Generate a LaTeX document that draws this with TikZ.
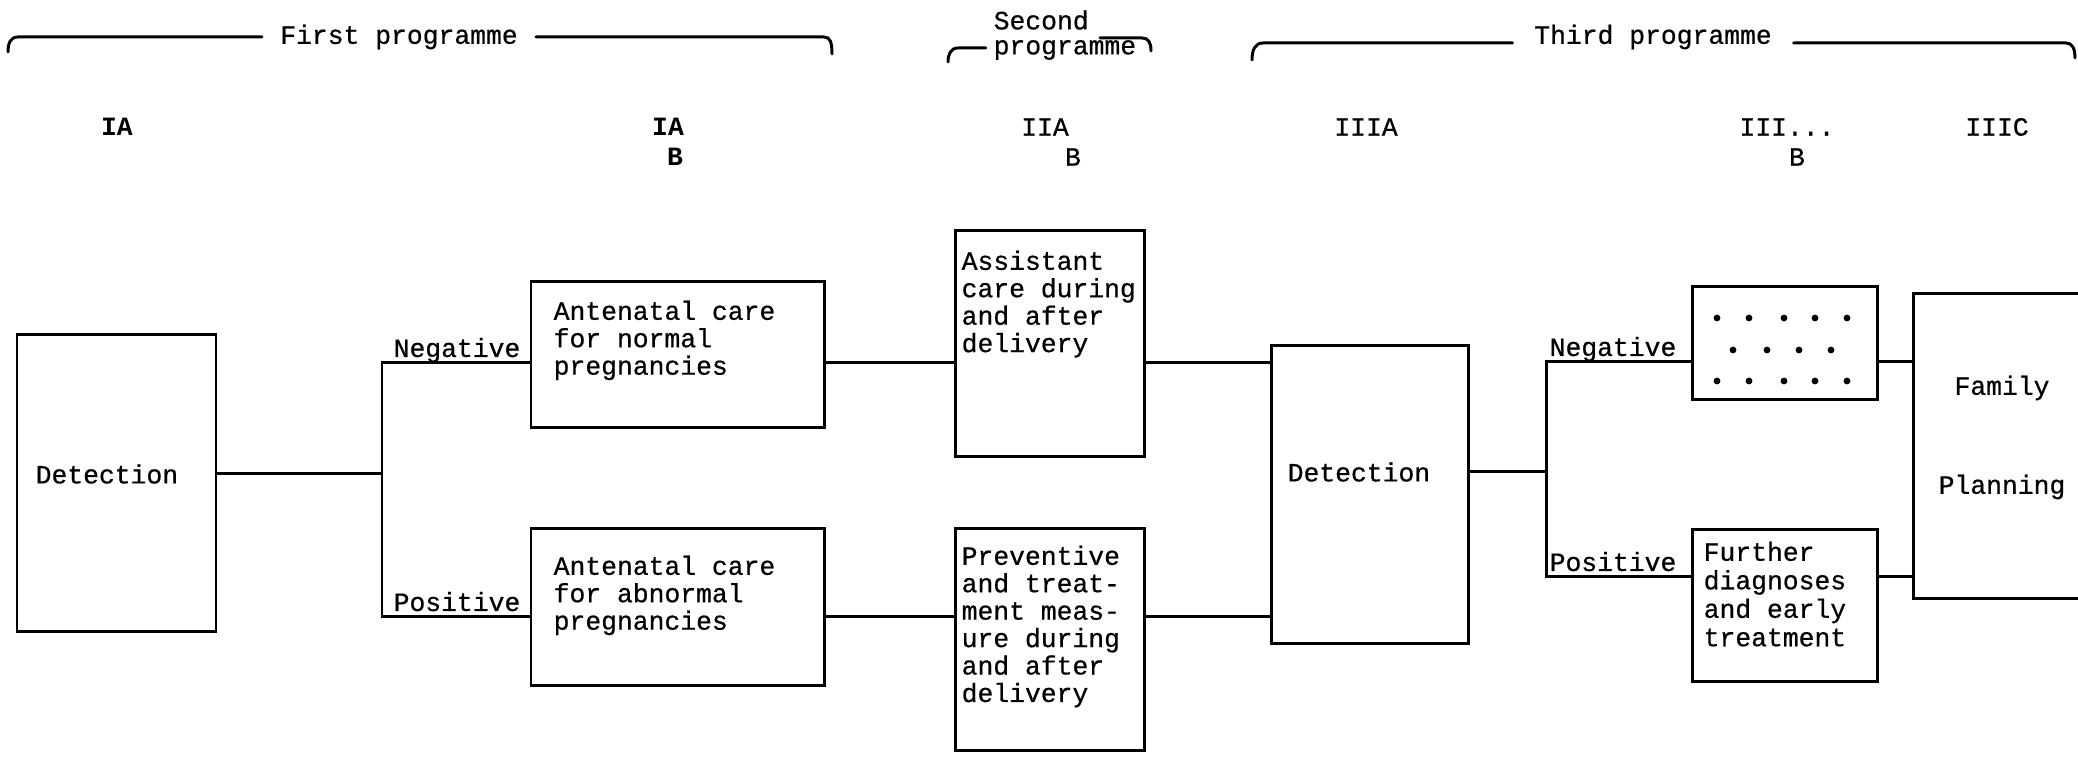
\documentclass[tikz,border=0pt]{standalone}
\usepackage{fontspec}
\setmonofont{Liberation Mono}
\newfontfamily\typer[FakeBold=0.6]{Liberation Mono}
\usetikzlibrary{fit}
\begin{document}
\begin{tikzpicture}[x=0.01cm,y=-0.01cm,
  box/.style={draw,line width=0.85pt,inner sep=0pt},
  link/.style={line width=0.85pt},
  brace/.style={line width=0.85pt,line cap=round},
  txt/.style={font=\typer\fontsize{7.5}{7.8}\selectfont,inner sep=0pt,align=left,text=black},
  big/.style={font=\typer\fontsize{7.5}{7.8}\selectfont,inner sep=0pt},
  head/.style={font=\ttfamily\bfseries\fontsize{7.5}{7.8}\selectfont,inner sep=0pt},
  headr/.style={font=\typer\fontsize{7.5}{7.8}\selectfont,inner sep=0pt},
  prog/.style={font=\typer\fontsize{7.5}{7.8}\selectfont,inner sep=0pt}]
\useasboundingbox (0,0) rectangle (2078,774);
\clip (0,0) rectangle (2078,774);

% programme headings with their brackets
\node[prog,inner xsep=5pt] (p1) at (399,37) {First programme};
\draw[brace] (8,52) .. controls (8,44) and (10,37) .. (18,37) -- (p1.west);
\draw[brace] (p1.east) -- (824,37) .. controls (830,37) and (832,42) .. (832,54);

\node[prog,anchor=west] (p2) at (993,20) {Second};
\node[prog,anchor=west] (p2b) at (993,50) {programme};
\draw[brace] (948,62) .. controls (948,54) and (951,48) .. (958,48) -- ([xshift=-2pt]p2b.west |- 0,48);
\draw[brace] (1100,38) -- (1142,38) .. controls (1148,38) and (1151,42) .. (1151,51);

\node[prog,inner xsep=6pt] (p3) at (1653,37) {Third programme};
\draw[brace] (1252,60) .. controls (1252,50) and (1255,43) .. (1263,43) -- (p3.west |- 0,43);
\draw[brace] (p3.east |- 0,43) -- (2066,43) .. controls (2072,43) and (2075,48) .. (2075,58);

% column labels
\node[head] (c1) at (117,127) {IA};
\node[head] (c2a) at (668,127) {IA};
\node[head] (c2b) at (675,157) {B};
\node[headr] (c3a) at (1045,127) {IIA};
\node[headr] (c3b) at (1073,157) {B};
\node[headr] (c4) at (1366,127) {IIIA};
\node[headr] (c5a) at (1787,127) {III...};
\node[headr] (c5b) at (1797,157) {B};
\node[headr] (c6) at (1997,127) {IIIC};

% boxes
\node[box,fit={(17,335) (216,632)}] (d1) {};
\node[box,fit={(531,282) (824,428)}] (an) {};
\node[box,fit={(531,529) (824,686)}] (ab) {};
\node[box,fit={(955,231) (1144,457)}] (as) {};
\node[box,fit={(955,529) (1144,751)}] (pr) {};
\node[box,fit={(1271,346) (1468,644)}] (d2) {};
\node[box,fit={(1692,287) (1877,400)}] (dt) {};
\node[box,fit={(1692,530) (1877,682)}] (fu) {};
\node[box,fit={(1913,294) (2095,599)}] (fp) {};

% box texts
\node[big,anchor=west] (d1t) at (35,474) {Detection};
\node[txt,anchor=north west] (ant) at (553,300) {Antenatal care\\for normal\\pregnancies};
\node[txt,anchor=north west] (abt) at (553,555) {Antenatal care\\for abnormal\\pregnancies};
\node[txt,anchor=north west] (ast) at (961,250) {Assistant\\care during\\and after\\delivery};
\node[txt,anchor=north west] (prt) at (961,545) {Preventive\\and treat-\\ment meas-\\ure during\\and after\\delivery};
\node[big,anchor=west] (d2t) at (1287,472) {Detection};
\node[txt,anchor=north west,font=\typer\fontsize{7.5}{8.1}\selectfont] (fut) at (1703,541) {Further\\diagnoses\\and early\\treatment};
\node[big] (fpa) at (2002,388) {Family};
\node[big] (fpb) at (2002,487) {Planning};

% dots in the open box
\foreach \x in {1717,1749,1784,1815,1847} {
  \fill (\x,318) circle (3.4);
  \fill (\x,381) circle (3.4);
}
\foreach \x in {1733,1767,1799,1831} {
  \fill (\x,350) circle (3.4);
}

% branch points
\coordinate (b1) at (382,474);
\coordinate (b1n) at (382,363);
\coordinate (b1p) at (382,617);
\coordinate (b2) at (1546,472);
\coordinate (b2n) at (1546,362);
\coordinate (b2p) at (1546,577);

% connectors of the first programme
\draw[link] (d1.east |- b1) -- (b1);
\draw[link] (an.west |- b1n) -- (b1n) -- (b1p) -- (ab.west |- b1p);
\node[txt,anchor=base west] (neg1) at (393,357) {Negative};
\node[txt,anchor=base west] (pos1) at (393,611) {Positive};
\draw[link] (an.east |- b1n) -- (as.west |- b1n);
\draw[link] (ab.east |- b1p) -- (pr.west |- b1p);

% connectors of the third programme
\draw[link] (as.east |- b1n) -- (d2.west |- b1n);
\draw[link] (pr.east |- b1p) -- (d2.west |- b1p);
\draw[link] (d2.east |- b2) -- (b2);
\draw[link] (dt.west |- b2n) -- (b2n) -- (b2p) -- (fu.west |- b2p);
\node[txt,anchor=base west] (neg2) at (1549,356) {Negative};
\node[txt,anchor=base west] (pos2) at (1549,571) {Positive};
\draw[link] (dt.east |- b2n) -- (fp.west |- b2n);
\draw[link] (fu.east |- b2p) -- (fp.west |- b2p);
\end{tikzpicture}
\end{document}
